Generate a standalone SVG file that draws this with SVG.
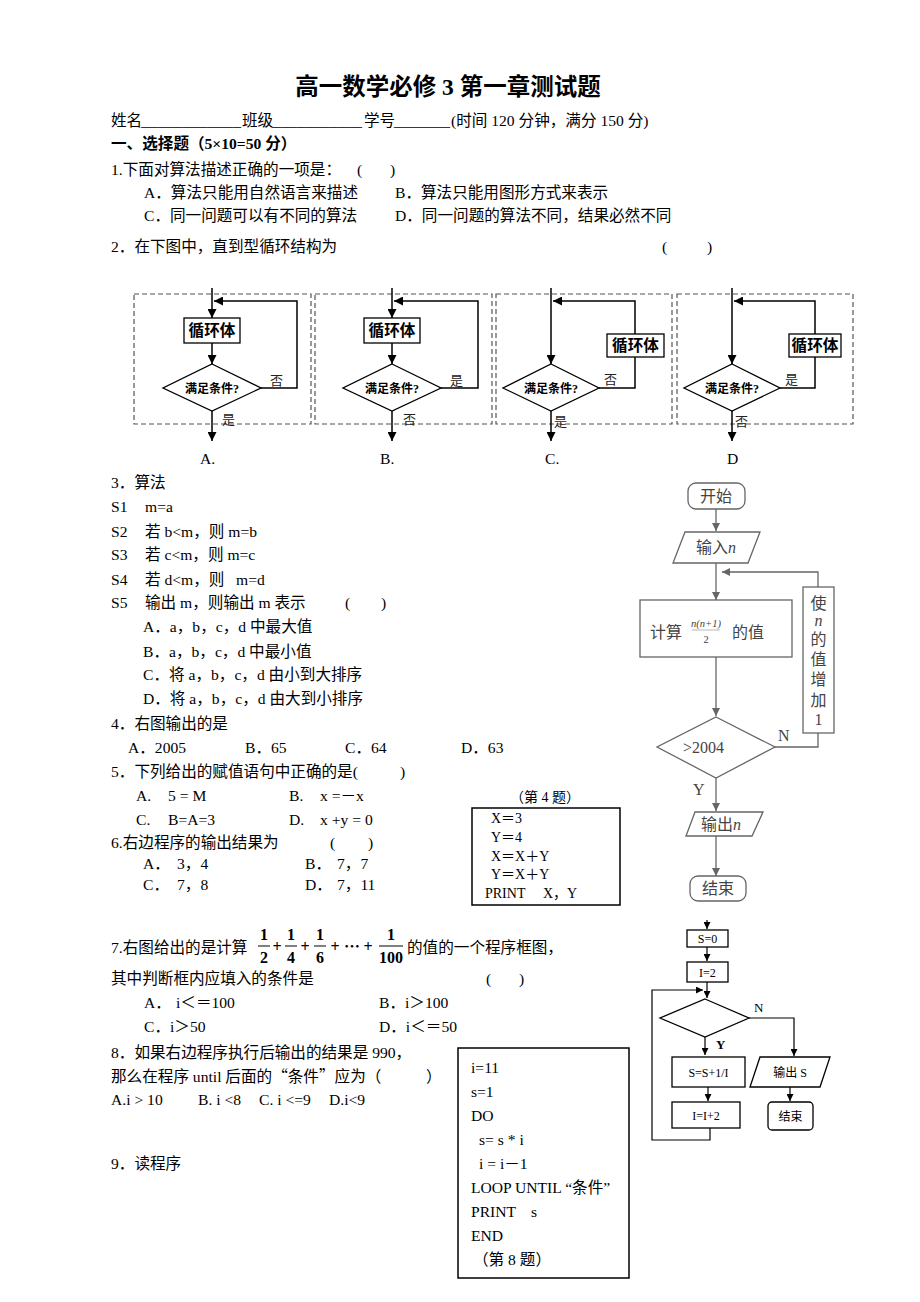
<svg xmlns="http://www.w3.org/2000/svg" width="920" height="1302" viewBox="0 0 920 1302">
<defs>
<style>
.t{font-family:"Liberation Serif","Noto Sans CJK SC",serif;font-size:15.6px;fill:#000;white-space:pre}
.s{font-size:14px}
.b{font-weight:bold}
.m{text-anchor:middle}
.cj{font-family:"Noto Sans CJK SC",sans-serif}
.ln{fill:none;stroke:#000;stroke-width:1.5}
.thin{fill:none;stroke:#000;stroke-width:1}
.dash{fill:none;stroke:#555;stroke-width:1.2;stroke-dasharray:5,3}
.box{fill:#fff;stroke:#000;stroke-width:1.3}
.g{fill:none;stroke:#666;stroke-width:1.3}
.gb{fill:#fff;stroke:#666;stroke-width:1.3}
.gt{font-family:"Liberation Serif","Noto Sans CJK SC",serif;font-size:16px;fill:#444}
.ft{font-family:"Liberation Serif","Noto Sans CJK SC",serif;font-size:12px;fill:#000}
.lt{font-family:"Liberation Serif","Noto Sans CJK SC",serif;font-size:13px;fill:#222}
</style>
<marker id="ah" viewBox="0 0 10 10" refX="10" refY="5" markerWidth="9" markerHeight="9" markerUnits="userSpaceOnUse" orient="auto"><path d="M0,0 L10,5 L0,10 z" fill="#000"/></marker>
<marker id="ahg" viewBox="0 0 10 10" refX="10" refY="5" markerWidth="8" markerHeight="8" markerUnits="userSpaceOnUse" orient="auto"><path d="M0,0 L10,5 L0,10 z" fill="#666"/></marker>
<marker id="ahs" viewBox="0 0 10 10" refX="10" refY="5" markerWidth="7" markerHeight="7" markerUnits="userSpaceOnUse" orient="auto"><path d="M0,0 L10,5 L0,10 z" fill="#000"/></marker>
</defs>
<rect width="920" height="1302" fill="#fff"/>
<g id="header">
<text class="t b m" x="448" y="95" style="font-size:23.5px">高一数学必修 3 第一章测试题</text>
<text class="t" x="111" y="126">姓名</text>
<text class="t" x="141" y="126" textLength="100" lengthAdjust="spacingAndGlyphs">____________</text>
<text class="t" x="242" y="126">班级</text>
<text class="t" x="272" y="126" textLength="90" lengthAdjust="spacingAndGlyphs">___________</text>
<text class="t" x="364" y="126">学号</text>
<text class="t" x="394" y="126" textLength="56" lengthAdjust="spacingAndGlyphs">_______</text>
<text class="t" x="451" y="126">(时间 120 分钟，满分 150 分)</text>
<text class="t b" x="111" y="149">一、选择题（5×10=50 分）</text>
<text class="t" x="111" y="175">1.下面对算法描述正确的一项是：</text>
<text class="t" x="357" y="175">(</text>
<text class="t" x="390" y="175">)</text>
<text class="t" x="144" y="198">A．算法只能用自然语言来描述</text>
<text class="t" x="395" y="198">B．算法只能用图形方式来表示</text>
<text class="t" x="144" y="221">C．同一问题可以有不同的算法</text>
<text class="t" x="395" y="221">D．同一问题的算法不同，结果必然不同</text>
<text class="t" x="111" y="252">2．在下图中，直到型循环结构为</text>
<text class="t" x="662" y="252">(</text>
<text class="t" x="707" y="252">)</text>
</g>
<g id="loopA">
<rect class="dash" x="134" y="294" width="177" height="130"/>
<rect class="box" x="184" y="318" width="56" height="25"/>
<text class="t b m" x="212" y="336">循环体</text>
<polygon class="box" points="212,364 261,388 212,411 163,388"/>
<text class="ft b m" x="212" y="393">满足条件?</text>
<text class="lt" x="270" y="385">否</text>
<text class="lt" x="222" y="424">是</text>
<text class="t" x="200" y="464">A.</text>
</g>
<g id="loopB">
<rect class="dash" x="315" y="294" width="177" height="130"/>
<rect class="box" x="364" y="318" width="56" height="25"/>
<text class="t b m" x="392" y="336">循环体</text>
<polygon class="box" points="392,364 441,388 392,411 343,388"/>
<text class="ft b m" x="392" y="393">满足条件?</text>
<text class="lt" x="450" y="385">是</text>
<text class="lt" x="403" y="424">否</text>
<text class="t" x="380" y="464">B.</text>
</g>
<g id="loopC">
<rect class="dash" x="496" y="294" width="176" height="130"/>
<rect class="box" x="607" y="334" width="57" height="23"/>
<text class="t b m" x="635.5" y="351">循环体</text>
<polygon class="box" points="551,364 599,388 551,411 503,388"/>
<text class="ft b m" x="551" y="393">满足条件?</text>
<text class="lt" x="604" y="384">否</text>
<text class="lt" x="554" y="426">是</text>
<text class="t" x="545" y="464">C.</text>
</g>
<g id="loopD">
<rect class="dash" x="677" y="294" width="176" height="130"/>
<rect class="box" x="789" y="334" width="52" height="23"/>
<text class="t b m" x="815" y="351">循环体</text>
<polygon class="box" points="732,364 780,388 732,411 684,388"/>
<text class="ft b m" x="732" y="393">满足条件?</text>
<text class="lt" x="785" y="384">是</text>
<text class="lt" x="735" y="426">否</text>
<text class="t" x="727" y="464">D</text>
</g>
<g id="loopConnectors">
<path class="ln" d="M212,288 V318" marker-end="url(#ah)"/>
<path class="ln" d="M212,343 V364" marker-end="url(#ah)"/>
<path class="ln" d="M212,411 V441" marker-end="url(#ah)"/>
<path class="ln" d="M261,388 H297 V301 H214" marker-end="url(#ah)"/>
<path class="ln" d="M392,288 V318" marker-end="url(#ah)"/>
<path class="ln" d="M392,343 V364" marker-end="url(#ah)"/>
<path class="ln" d="M392,411 V441" marker-end="url(#ah)"/>
<path class="ln" d="M441,388 H478 V301 H394" marker-end="url(#ah)"/>
<path class="ln" d="M551,288 V364" marker-end="url(#ah)"/>
<path class="ln" d="M551,411 V441" marker-end="url(#ah)"/>
<path class="ln" d="M599,388 H635 V357"/>
<path class="ln" d="M635,334 V301 H553" marker-end="url(#ah)"/>
<path class="ln" d="M732,288 V364" marker-end="url(#ah)"/>
<path class="ln" d="M732,411 V441" marker-end="url(#ah)"/>
<path class="ln" d="M780,388 H815 V357"/>
<path class="ln" d="M815,334 V301 H734" marker-end="url(#ah)"/>
</g>
<g id="q3to6">
<text class="t" x="111" y="488">3．算法</text>
<text class="t" x="111" y="512">S1</text><text class="t" x="145" y="512">m=a</text>
<text class="t" x="111" y="537">S2</text><text class="t" x="145" y="537">若 b&lt;m，则 m=b</text>
<text class="t" x="111" y="560">S3</text><text class="t" x="145" y="560">若 c&lt;m，则 m=c</text>
<text class="t" x="111" y="585">S4</text><text class="t" x="145" y="585">若 d&lt;m，则</text><text class="t" x="236" y="585">m=d</text>
<text class="t" x="111" y="608">S5</text><text class="t" x="145" y="608">输出 m，则输出 m 表示</text>
<text class="t" x="345" y="608">(</text><text class="t" x="381" y="608">)</text>
<text class="t" x="143" y="632">A．a，b，c，d 中最大值</text>
<text class="t" x="143" y="657">B．a，b，c，d 中最小值</text>
<text class="t" x="143" y="680">C．将 a，b，c，d 由小到大排序</text>
<text class="t" x="143" y="704">D．将 a，b，c，d 由大到小排序</text>
<text class="t" x="111" y="729">4．右图输出的是</text>
<text class="t" x="128" y="753">A．2005</text>
<text class="t" x="245" y="753">B．65</text>
<text class="t" x="345" y="753">C．64</text>
<text class="t" x="461" y="753">D．63</text>
<text class="t" x="111" y="777">5．下列给出的赋值语句中正确的是(</text>
<text class="t" x="400" y="777">)</text>
<text class="t" x="136" y="801">A.</text><text class="t" x="168" y="801">5 = M</text>
<text class="t" x="289" y="801">B.</text><text class="t" x="320" y="801">x =－x</text>
<text class="t" x="136" y="825">C.</text><text class="t" x="168" y="825">B=A=3</text>
<text class="t" x="289" y="825">D.</text><text class="t" x="320" y="825">x +y = 0</text>
<text class="t" x="111" y="848">6.右边程序的输出结果为</text>
<text class="t" x="330" y="848">(</text><text class="t" x="368" y="848">)</text>
<text class="t" x="143" y="869">A．</text><text class="t" x="177" y="869">3，4</text>
<text class="t" x="305" y="869">B．</text><text class="t" x="337" y="869">7，7</text>
<text class="t" x="143" y="890">C．</text><text class="t" x="177" y="890">7，8</text>
<text class="t" x="305" y="890">D．</text><text class="t" x="337" y="890">7，11</text>
</g>
<g id="prog4">
<text class="t s m" x="545" y="802">（第 4 题）</text>
<rect class="thin" x="472" y="808" width="148" height="97" style="stroke-width:1.5"/>
<text class="t s" x="491" y="823">X＝3</text>
<text class="t s" x="491" y="842">Y＝4</text>
<text class="t s" x="491" y="861">X＝X＋Y</text>
<text class="t s" x="491" y="879">Y＝X＋Y</text>
<text class="t s" x="485" y="898">PRINT</text><text class="t s" x="543" y="898">X，Y</text>
</g>
<g id="fc4-start"><rect class="gb" x="688" y="483" width="57" height="26" rx="8"/><text class="gt m" x="716" y="502">开始</text></g>
<g id="fc4-input"><polygon class="gb" points="685,532 760,532 748,563 673,563"/><text class="gt m" x="716" y="553">输入<tspan font-style="italic">n</tspan></text></g>
<g id="fc4-calc"><rect class="gb" x="640" y="600" width="152" height="57"/>
<text class="gt" x="650" y="638">计算</text>
<text class="gt m" x="706" y="627" style="font-size:10.5px;font-style:italic">n(n+1)</text>
<line x1="692" y1="630" x2="720" y2="630" stroke="#888" stroke-width="0.6"/>
<text class="gt m" x="706" y="643" style="font-size:10.5px">2</text>
<text class="gt" x="732" y="638">的值</text></g>
<g id="fc4-cond"><polygon class="gb" points="716,717 775,747 716,778 657,747"/><text class="gt" x="683" y="753">&gt;2004</text></g>
<g id="fc4-inc"><rect class="gb" x="803" y="587" width="31" height="146"/>
<text class="gt m" x="818.5" y="609">使</text>
<text class="gt m" x="818.5" y="626" font-style="italic">n</text>
<text class="gt m" x="818.5" y="645">的</text>
<text class="gt m" x="818.5" y="665">值</text>
<text class="gt m" x="818.5" y="685">增</text>
<text class="gt m" x="818.5" y="706">加</text>
<text class="gt m" x="818.5" y="725">1</text></g>
<g id="fc4-output"><polygon class="gb" points="695,812 763,812 752,836 686,836"/><text class="gt m" x="721" y="830">输出<tspan font-style="italic">n</tspan></text></g>
<g id="fc4-end"><rect class="gb" x="690" y="876" width="56" height="25" rx="8"/><text class="gt m" x="718" y="894">结束</text></g>
<g id="fc4-connectors">
<path class="g" d="M716,509 V531" marker-end="url(#ahg)"/>
<path class="g" d="M716,563 V600" marker-end="url(#ahg)"/>
<path class="g" d="M818,587 V572 H722" marker-end="url(#ahg)"/>
<path class="g" d="M716,657 V716" marker-end="url(#ahg)"/>
<path class="g" d="M775,747 H818 V733"/>
<path class="g" d="M716,778 V811" marker-end="url(#ahg)"/>
<path class="g" d="M716,836 V876" marker-end="url(#ahg)"/>
<text class="gt" x="778" y="741">N</text>
<text class="gt" x="693" y="795">Y</text>
</g>
<g id="q7">
<text class="t" x="111" y="953">7.右图给出的是计算</text>
<g class="t b" style="font-size:16px">
<text class="m" x="264" y="940">1</text><line x1="258" y1="946" x2="270" y2="946" stroke="#000" stroke-width="1"/><text class="m" x="264" y="963">2</text>
<text class="m" x="277" y="952">+</text>
<text class="m" x="291" y="940">1</text><line x1="285" y1="946" x2="297" y2="946" stroke="#000" stroke-width="1"/><text class="m" x="291" y="963">4</text>
<text class="m" x="305" y="952">+</text>
<text class="m" x="320" y="940">1</text><line x1="314" y1="946" x2="326" y2="946" stroke="#000" stroke-width="1"/><text class="m" x="320" y="963">6</text>
<text class="m" x="335" y="952">+</text>
<text class="m" x="352" y="952">⋯</text>
<text class="m" x="368" y="952">+</text>
<text class="m" x="391" y="940">1</text><line x1="379" y1="946" x2="403" y2="946" stroke="#000" stroke-width="1"/><text class="m" x="391" y="963">100</text>
</g>
<text class="t" x="407" y="953">的值的一个程序框图，</text>
<text class="t" x="111" y="984">其中判断框内应填入的条件是</text>
<text class="t" x="486" y="984">(</text><text class="t" x="519" y="984">)</text>
<text class="t" x="144" y="1008">A．</text><text class="t" x="176" y="1008">i＜＝100</text>
<text class="t" x="379" y="1008">B．i＞100</text>
<text class="t" x="144" y="1032">C．i＞50</text>
<text class="t" x="379" y="1032">D．i＜＝50</text>
<text class="t" x="111" y="1058">8．如果右边程序执行后输出的结果是 990，</text>
<text class="t" x="111" y="1082">那么在程序 until 后面的<tspan class="cj">“</tspan>条件<tspan class="cj">”</tspan>应为（</text>
<text class="t" x="426" y="1082">）</text>
<text class="t" x="111" y="1105">A.i &gt; 10</text>
<text class="t" x="198" y="1105">B. i &lt;8</text>
<text class="t" x="259" y="1105">C. i &lt;=9</text>
<text class="t" x="329" y="1105">D.i&lt;9</text>
<text class="t" x="111" y="1169">9．读程序</text>
</g>
<g id="fc7-s0"><rect class="box" x="687" y="930" width="41" height="17"/><text class="ft m" x="707.5" y="943">S=0</text></g>
<g id="fc7-i2"><rect class="box" x="687" y="962" width="41" height="20"/><text class="ft m" x="707.5" y="977">I=2</text></g>
<g id="fc7-cond"><polygon class="box" points="705,999 749,1018 705,1037 660,1018"/></g>
<g id="fc7-sum"><rect class="box" x="672" y="1057" width="73" height="30"/><text class="ft m" x="708.5" y="1077">S=S+1/I</text></g>
<g id="fc7-inc"><rect class="box" x="672" y="1102" width="68" height="26"/><text class="ft m" x="706" y="1120">I=I+2</text></g>
<g id="fc7-out"><polygon class="box" points="760,1057 830,1057 820,1087 750,1087"/><text class="ft m" x="790" y="1077">输出 S</text></g>
<g id="fc7-end"><rect class="box" x="768" y="1102" width="45" height="28" rx="4"/><text class="ft m" x="790.5" y="1121">结束</text></g>
<g id="fc7-connectors">
<path class="ln" style="stroke-width:1.2" d="M707,920 V929" marker-end="url(#ahs)"/>
<path class="ln" style="stroke-width:1.2" d="M707,947 V961" marker-end="url(#ahs)"/>
<path class="ln" style="stroke-width:1.2" d="M707,982 V998" marker-end="url(#ahs)"/>
<path class="ln" style="stroke-width:1.2" d="M710,1128 V1140 H652 V990 H703" marker-end="url(#ahs)"/>
<path class="ln" style="stroke-width:1.2" d="M749,1018 H794 V1056" marker-end="url(#ahs)"/>
<path class="ln" style="stroke-width:1.2" d="M705,1037 V1055" marker-end="url(#ahs)"/>
<path class="ln" style="stroke-width:1.2" d="M708,1087 V1101" marker-end="url(#ahs)"/>
<path class="ln" style="stroke-width:1.2" d="M790,1087 V1101" marker-end="url(#ahs)"/>
<text class="ft" x="754" y="1012" style="font-size:13px">N</text>
<text class="ft b" x="716" y="1049" style="font-size:13px">Y</text>
</g>
<g id="prog8">
<rect class="thin" x="458" y="1048" width="171" height="230" style="stroke-width:1.5"/>
<text class="t" x="471" y="1073">i=11</text>
<text class="t" x="471" y="1097">s=1</text>
<text class="t" x="471" y="1121">DO</text>
<text class="t" x="479" y="1145">s= s * i</text>
<text class="t" x="479" y="1169">i = i－1</text>
<text class="t" x="471" y="1193">LOOP UNTIL “条件”</text>
<text class="t" x="471" y="1217">PRINT</text><text class="t" x="531" y="1217">s</text>
<text class="t" x="471" y="1241">END</text>
<text class="t" x="473" y="1265">（第 8 题）</text>
</g>
</svg>
